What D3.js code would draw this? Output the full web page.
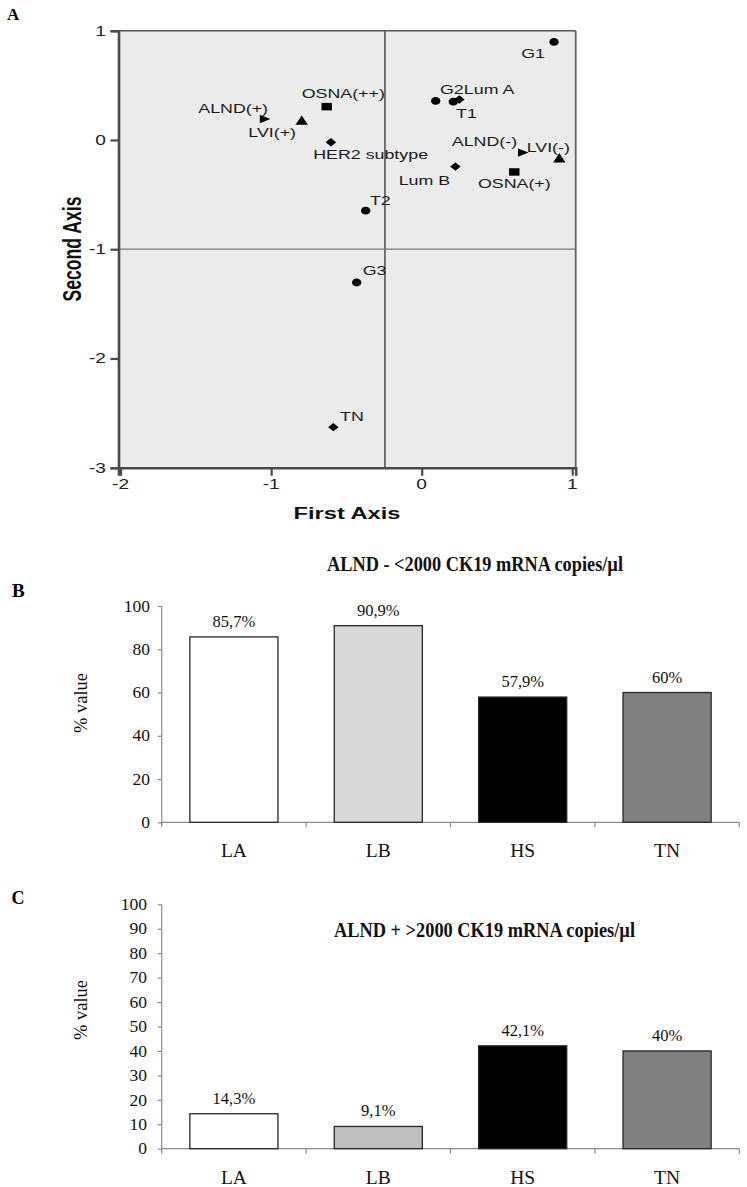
<!DOCTYPE html>
<html>
<head>
<meta charset="utf-8">
<script src="https://cdn.jsdelivr.net/npm/d3@7"></script>
<style>
  html, body { margin: 0; padding: 0; background: #fff; }
  svg { display: block; }
</style>
</head>
<body>
<svg id="chart" width="747" height="1187"></svg>
<script>
// ---------- DATA ----------
// Panel A: correspondence analysis
const pointLabels = ["G1", "G2", "G3", "T1", "T2", "Lum A", "Lum B", "HER2 subtype", "TN",
                     "OSNA(++)", "OSNA(+)", "ALND(+)", "ALND(-)", "LVI(+)", "LVI(-)"];
const pointFirst  = [0.879, 0.093, -0.432, 0.21, -0.372, 0.25, 0.224, -0.603, -0.587,
                     -0.631, 0.615, -1.052, 0.663, -0.797, 0.914];
const pointSecond = [0.897, 0.357, -1.305, 0.35, -0.647, 0.37, -0.244, -0.021, -2.629,
                     0.305, -0.293, 0.192, -0.116, 0.167, -0.177];
const pointShape  = ["circle", "circle", "circle", "circle", "circle",
                     "diamond", "diamond", "diamond", "diamond",
                     "square", "square", "tright", "tright", "tup", "tup"];
const axisATicksX = [-2, -1, 0, 1];
const axisATicksY = [1, 0, -1, -2, -3];
const refLineFirst = -0.244;
const refLineSecond = -1;

// Panel B / C: bar charts
const categories = ["LA", "LB", "HS", "TN"];
const valuesB = [85.7, 90.9, 57.9, 60];
const labelsB = ["85,7%", "90,9%", "57,9%", "60%"];
const valuesC = [14.3, 9.1, 42.1, 40];
const labelsC = ["14,3%", "9,1%", "42,1%", "40%"];
const ticksB = [0, 20, 40, 60, 80, 100];
const ticksC = [0, 10, 20, 30, 40, 50, 60, 70, 80, 90, 100];
const titleB = "ALND - <2000 CK19 mRNA copies/\u00b5l";
const titleC = "ALND + >2000 CK19 mRNA copies/\u00b5l";

// ---------- LAYOUT / STYLE ----------
const svg = d3.select("#chart");
const SANS = "'Liberation Sans', Arial, Helvetica, sans-serif";
const SERIF = "'Liberation Serif', 'Times New Roman', Times, serif";
const SX = 1.32; // horizontal stretch of panel A text

// label offsets (px) relative to the marker: [dx, dy, anchor]
const labelPos = {
  "G1": [-9, 16, "end"], "G2": [4.3, -7, "start"], "Lum A": [4.5, -5.3, "start"],
  "T1": [2.7, 16.3, "start"], "ALND(-)": [-4.4, -6.5, "end"], "LVI(-)": [-32.6, -7.3, "start"],
  "Lum B": [-5.3, 18.3, "end"], "OSNA(+)": [0, 16.5, "middle"], "OSNA(++)": [-25, -8.7, "start"],
  "ALND(+)": [4.7, -6, "end"], "LVI(+)": [-5.7, 15.3, "end"], "HER2 subtype": [-17.7, 17, "start"],
  "T2": [4.3, -5.7, "start"], "G3": [6, -7.7, "start"], "TN": [6.7, -6.3, "start"]
};

function stretchText(g, x, y, txt, opts) {
  const t = g.append("text")
    .attr("transform", `translate(${x},${y}) scale(${opts.sx || 1},1)` + (opts.rot ? ` rotate(${opts.rot})` : ""))
    .attr("font-family", opts.family || SANS)
    .attr("font-size", opts.size)
    .attr("font-weight", opts.weight || "normal")
    .attr("text-anchor", opts.anchor || "start")
    .attr("fill", opts.fill || "#111")
    .text(txt);
  if (opts.len) t.attr("textLength", opts.len).attr("lengthAdjust", "spacingAndGlyphs");
  return t;
}

// ---------- PANEL A ----------
const gA = svg.append("g");
const xA = d3.scaleLinear().domain([-2.014, 1.023]).range([118.5, 575.7]);
const yA = d3.scaleLinear().domain([-3, 1]).range([467.7, 30.7]);

gA.append("rect")
  .attr("x", xA.range()[0]).attr("y", yA.range()[1])
  .attr("width", xA.range()[1] - xA.range()[0])
  .attr("height", yA.range()[0] - yA.range()[1])
  .attr("fill", "#ebebeb");

// reference lines
gA.append("line")
  .attr("x1", xA(refLineFirst)).attr("x2", xA(refLineFirst))
  .attr("y1", yA.range()[1]).attr("y2", yA.range()[0])
  .attr("stroke", "#555").attr("stroke-width", 1.6);
gA.append("line")
  .attr("x1", xA.range()[0]).attr("x2", xA.range()[1])
  .attr("y1", yA(refLineSecond)).attr("y2", yA(refLineSecond))
  .attr("stroke", "#777").attr("stroke-width", 1.2);

// frame (top / right thinner, left / bottom axes thick)
gA.append("line").attr("x1", xA.range()[0]).attr("x2", xA.range()[1])
  .attr("y1", yA.range()[1]).attr("y2", yA.range()[1]).attr("stroke", "#555").attr("stroke-width", 1.6);
gA.append("line").attr("x1", xA.range()[1]).attr("x2", xA.range()[1])
  .attr("y1", yA.range()[1]).attr("y2", yA.range()[0]).attr("stroke", "#666").attr("stroke-width", 1.8);

// axes via d3
const axAx = gA.append("g").attr("transform", `translate(0,${yA.range()[0]})`)
  .call(d3.axisBottom(xA).tickValues(axisATicksX).tickSize(8).tickFormat(""));
const axAy = gA.append("g").attr("transform", `translate(${xA.range()[0]},0)`)
  .call(d3.axisLeft(yA).tickValues(axisATicksY).tickSize(8).tickFormat(""));
[axAx, axAy].forEach(a => {
  a.select(".domain").attr("stroke", "#4a4a4a").attr("stroke-width", 2.6);
  a.selectAll(".tick line").attr("stroke", "#4a4a4a").attr("stroke-width", 2.2);
});
axisATicksX.forEach(v => stretchText(gA, xA(v), 489, String(v),
  { size: 14.5, sx: SX, anchor: "middle", fill: "#222" }));
axisATicksY.forEach(v => stretchText(gA, 106, yA(v) + 5, String(v),
  { size: 14.5, sx: SX, anchor: "end", fill: "#222" }));

stretchText(gA, 347, 518.5, "First Axis", { size: 17, weight: "bold", anchor: "middle", len: 81, sx: SX });
stretchText(gA, 81, 249, "Second Axis", { size: 19.5, weight: "bold", anchor: "middle", len: 105, sx: SX, rot: -90 });

// markers
const shapeDef = {
  circle:  { type: d3.symbolCircle,   size: 48, sx: 1.2,  rot: 0 },
  diamond: { type: d3.symbolSquare,   size: 35, sx: 1.25, rot: 45 },
  square:  { type: d3.symbolSquare,   size: 56, sx: 1.4,  rot: 0 },
  tup:     { type: d3.symbolTriangle, size: 50, sx: 1.15, rot: 0 },
  tright:  { type: d3.symbolTriangle, size: 30, sx: 1.45, rot: 90 }
};
const pts = pointLabels.map((l, i) => ({ label: l, x: pointFirst[i], y: pointSecond[i], shape: pointShape[i] }));
gA.selectAll("path.pt").data(pts).join("path")
  .attr("class", "pt")
  .attr("d", d => d3.symbol().type(shapeDef[d.shape].type).size(shapeDef[d.shape].size)())
  .attr("transform", d => `translate(${xA(d.x)},${yA(d.y)}) scale(${shapeDef[d.shape].sx},1) rotate(${shapeDef[d.shape].rot})`)
  .attr("fill", "#000");

pts.forEach(d => {
  const p = labelPos[d.label];
  stretchText(gA, xA(d.x) + p[0], yA(d.y) + p[1], d.label, { size: 13.5, sx: SX, anchor: p[2], fill: "#1a1a1a" });
});

// panel letters
svg.append("text").attr("x", 7).attr("y", 20).attr("font-family", SERIF).attr("font-weight", "bold")
  .attr("font-size", 17).text("A");
svg.append("text").attr("x", 12).attr("y", 597).attr("font-family", SERIF).attr("font-weight", "bold")
  .attr("font-size", 19).text("B");
svg.append("text").attr("x", 11.5).attr("y", 903.5).attr("font-family", SERIF).attr("font-weight", "bold")
  .attr("font-size", 18).text("C");

// ---------- BAR PANELS ----------
function barPanel(cfg) {
  const g = svg.append("g");
  const x = d3.scaleBand().domain(categories).range([161.7, 739.3]).padding(0);
  const y = d3.scaleLinear().domain([0, 100]).range([cfg.y0, cfg.y100]);
  const bw = x.bandwidth() * 0.61;

  // axes
  const ya = g.append("g").attr("transform", `translate(${x.range()[0]},0)`)
    .call(d3.axisLeft(y).tickValues(cfg.ticks).tickSize(4).tickSizeOuter(0).tickFormat(""));
  ya.select(".domain").attr("stroke", "#8c8c8c").attr("stroke-width", 1.2)
    .attr("d", `M0,${cfg.y100}V${cfg.y0 + 3}`);
  ya.selectAll(".tick line").attr("stroke", "#8c8c8c").attr("stroke-width", 1.2);

  const xa = g.append("g").attr("transform", `translate(0,${cfg.y0})`)
    .call(d3.axisBottom(x).tickSize(0).tickFormat(""));
  xa.select(".domain").attr("stroke", "#8c8c8c").attr("stroke-width", 1.2)
    .attr("d", `M${x.range()[0]},0H${x.range()[1]}`);
  const bounds = categories.map(c => x(c)).concat([x.range()[1]]);
  g.selectAll("line.bt").data(bounds).join("line").attr("class", "bt")
    .attr("x1", d => d).attr("x2", d => d).attr("y1", cfg.y0).attr("y2", cfg.y0 + 5)
    .attr("stroke", "#8c8c8c").attr("stroke-width", 1.2);

  // tick labels
  g.selectAll("text.yt").data(cfg.ticks).join("text").attr("class", "yt")
    .attr("x", cfg.tickRight).attr("y", d => y(d) + 5.7)
    .attr("text-anchor", "end").attr("font-family", SERIF).attr("font-size", 17.5)
    .attr("fill", "#111").text(d => d);

  // bars
  const data = categories.map((c, i) => ({ c, v: cfg.values[i], lab: cfg.labels[i], fill: cfg.fills[i] }));
  g.selectAll("rect.bar").data(data).join("rect").attr("class", "bar")
    .attr("x", d => x(d.c) + (x.bandwidth() - bw) / 2)
    .attr("width", bw)
    .attr("y", d => y(d.v))
    .attr("height", d => y(0) - y(d.v))
    .attr("fill", d => d.fill)
    .attr("stroke", "#262626").attr("stroke-width", 1.3);

  g.selectAll("text.vl").data(data).join("text").attr("class", "vl")
    .attr("x", d => x(d.c) + x.bandwidth() / 2).attr("y", d => y(d.v) - 10)
    .attr("text-anchor", "middle").attr("font-family", SERIF).attr("font-size", 16.5)
    .attr("fill", "#111").text(d => d.lab);

  g.selectAll("text.cl").data(categories).join("text").attr("class", "cl")
    .attr("x", d => x(d) + x.bandwidth() / 2).attr("y", cfg.catBase)
    .attr("text-anchor", "middle").attr("font-family", SERIF).attr("font-size", 19.5)
    .attr("fill", "#111").text(d => d);

  g.append("text")
    .attr("transform", `translate(87,${cfg.ylabY}) rotate(-90)`)
    .attr("text-anchor", "middle").attr("font-family", SERIF).attr("font-size", 19)
    .attr("textLength", 60).attr("lengthAdjust", "spacingAndGlyphs")
    .attr("fill", "#111").text("% value");

  g.append("text").attr("x", cfg.titleX).attr("y", cfg.titleY)
    .attr("text-anchor", "middle").attr("font-family", SERIF).attr("font-weight", "bold")
    .attr("font-size", 20).attr("textLength", cfg.titleLen).attr("lengthAdjust", "spacingAndGlyphs")
    .attr("fill", "#111").text(cfg.title);
}

barPanel({
  y0: 822.3, y100: 606, ticks: ticksB, values: valuesB, labels: labelsB,
  fills: ["#ffffff", "#d9d9d9", "#000000", "#808080"], tickRight: 150,
  catBase: 857, ylabY: 703, title: titleB, titleX: 475, titleY: 571, titleLen: 296
});
barPanel({
  y0: 1148.7, y100: 904.3, ticks: ticksC, values: valuesC, labels: labelsC,
  fills: ["#ffffff", "#bfbfbf", "#000000", "#808080"], tickRight: 147,
  catBase: 1183.5, ylabY: 1010, title: titleC, titleX: 484.5, titleY: 937, titleLen: 301
});
</script>
</body>
</html>
